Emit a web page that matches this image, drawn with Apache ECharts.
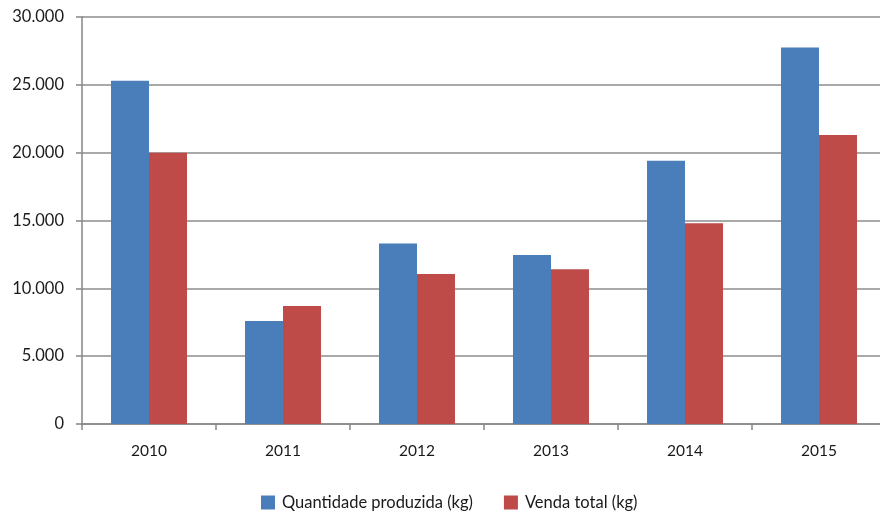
<!DOCTYPE html>
<html>
<head>
<meta charset="utf-8">
<script src="https://cdn.jsdelivr.net/npm/echarts@6/dist/echarts.min.js"></script>
<style>
  html, body { margin: 0; padding: 0; background: #fff; overflow: hidden; }
  #chart { width: 890px; height: 516px; }
</style>
</head>
<body>
<div id="chart"></div>
<script>
// Annual production vs. total sales, in kg
const years = ['2010', '2011', '2012', '2013', '2014', '2015'];
const produzida = [25300, 7600, 13300, 12450, 19400, 27750];
const vendaTotal = [20000, 8700, 11050, 11400, 14800, 21300];
const seriesNames = ['Quantidade produzida (kg)', 'Venda total (kg)'];

// Thousands separated with a dot (pt-BR style)
const fmt = v => v === 0 ? '0' : String(v).replace(/\B(?=(\d{3})+(?!\d))/g, '.');

const chart = echarts.init(document.getElementById('chart'), null, { renderer: 'canvas' });
const font = 'Lato, "Open Sans", sans-serif';
const axisGrey = '#868686';
chart.setOption({
  animation: false,
  textStyle: { fontFamily: font },
  grid: { left: 82, top: 17, width: 804, height: 407, containLabel: false },
  legend: {
    bottom: 0,
    left: 256,
    itemWidth: 14,
    itemHeight: 14,
    itemGap: 31,
    icon: 'rect',
    textStyle: { fontSize: 16.5, color: '#1a1a1a', fontFamily: font, padding: [0, 0, 0, 2] },
    data: seriesNames
  },
  xAxis: {
    type: 'category',
    data: years,
    axisLine: { lineStyle: { color: axisGrey, width: 1.5 } },
    axisTick: { show: true, length: 6, lineStyle: { color: axisGrey, width: 1.5 } },
    axisLabel: { fontSize: 15.5, color: '#1a1a1a', margin: 19 }
  },
  yAxis: {
    type: 'value',
    min: 0,
    max: 30000,
    interval: 5000,
    axisLine: { show: true, lineStyle: { color: axisGrey, width: 1.5 } },
    axisTick: { show: true, length: 6, lineStyle: { color: axisGrey, width: 1.5 } },
    splitLine: { lineStyle: { color: '#8c8c8c', width: 1.5 } },
    axisLabel: { fontSize: 16.5, color: '#1a1a1a', margin: 18, formatter: fmt }
  },
  series: [
    {
      name: seriesNames[0],
      type: 'bar',
      data: produzida,
      barWidth: 38,
      barGap: '0%',
      itemStyle: { color: '#4a7ebb' }
    },
    {
      name: seriesNames[1],
      type: 'bar',
      data: vendaTotal,
      barWidth: 38,
      itemStyle: { color: '#be4b48' }
    }
  ]
});
</script>
</body>
</html>
